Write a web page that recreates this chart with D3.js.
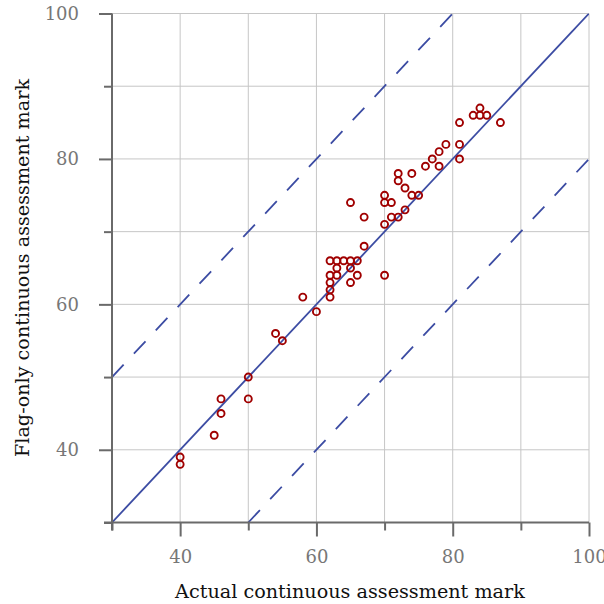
<!DOCTYPE html>
<html>
<head>
<meta charset="utf-8">
<script src="https://cdn.jsdelivr.net/npm/d3@7"></script>
<style>
  html, body { margin: 0; padding: 0; background: #fff; }
  svg { display: block; }
</style>
</head>
<body>
<svg id="chart" width="604" height="604"></svg>
<script>
// Actual continuous assessment mark
const actualMarks = [40, 40, 45, 46, 46, 50, 50, 54, 55, 58, 60,
  62, 62, 62, 62, 62, 63, 63, 63, 64, 65, 65, 65, 66, 66,
  65, 67, 67, 70, 70, 71, 70, 70, 71, 72, 73, 72, 72, 74, 73, 74, 75,
  76, 77, 78, 78, 79, 81, 81, 81, 83, 84, 84, 85, 87];
// Flag-only continuous assessment mark
const flagMarks = [39, 38, 42, 47, 45, 50, 47, 56, 55, 61, 59,
  66, 64, 63, 62, 61, 66, 65, 64, 66, 66, 65, 63, 66, 64,
  74, 72, 68, 75, 74, 74, 71, 64, 72, 72, 73, 78, 77, 78, 76, 75, 75,
  79, 80, 81, 79, 82, 85, 82, 80, 86, 87, 86, 86, 85];
const majorTicks = [40, 60, 80, 100];
const minorTicks = [30, 50, 70, 90];
const gridValues = [40, 50, 60, 70, 80, 90, 100];
const refOffsets = [0, 20, -20];
const axisDomain = [30, 100];
const xTitle = "Actual continuous assessment mark";
const yTitle = "Flag-only continuous assessment mark";

const svg = d3.select("#chart");
const x = d3.scaleLinear().domain(axisDomain).range([112, 589]);
const y = d3.scaleLinear().domain(axisDomain).range([522.5, 13.5]);
const font = "'DejaVu Serif', serif";
const axisColor = "#6a6a6a";
const lineColor = "#3c4ca3";
const pointColor = "#a00000";

// grid
const grid = svg.append("g");
grid.selectAll("line.v").data(gridValues).join("line")
  .attr("x1", d => x(d)).attr("x2", d => x(d))
  .attr("y1", y(30)).attr("y2", y(100))
  .attr("stroke", "#c6c6c6").attr("stroke-width", 1);
grid.selectAll("line.h").data(gridValues).join("line")
  .attr("y1", d => y(d)).attr("y2", d => y(d))
  .attr("x1", x(30)).attr("x2", x(100))
  .attr("stroke", "#c6c6c6").attr("stroke-width", 1);

// reference lines (clipped to plot area)
svg.append("clipPath").attr("id", "plotclip").append("rect")
  .attr("x", x(30)).attr("y", y(100))
  .attr("width", x(100) - x(30)).attr("height", y(30) - y(100));
const refs = svg.append("g").attr("clip-path", "url(#plotclip)");
refs.selectAll("line").data(refOffsets).join("line")
  .attr("x1", d => x(Math.max(30, 30 - d)))
  .attr("y1", d => y(Math.max(30, 30 - d) + d))
  .attr("x2", d => x(Math.min(100, 100 - d)))
  .attr("y2", d => y(Math.min(100, 100 - d) + d))
  .attr("stroke", lineColor).attr("stroke-width", 1.8)
  .attr("stroke-dasharray", d => d === 0 ? null : "17,15");

// axes
function styleAxis(g) {
  g.select(".domain").remove();
  g.selectAll("line").attr("stroke", axisColor).attr("stroke-width", 2);
  g.selectAll("text").attr("fill", "#777").attr("font-family", font).attr("font-size", 18);
}
const xMajor = svg.append("g").attr("transform", `translate(0,${y(30)})`)
  .call(d3.axisBottom(x).tickValues(majorTicks).tickSize(14).tickPadding(14).tickFormat(d3.format("d")));
styleAxis(xMajor);
const xMinor = svg.append("g").attr("transform", `translate(0,${y(30)})`)
  .call(d3.axisBottom(x).tickValues(minorTicks).tickSize(8).tickFormat(""));
styleAxis(xMinor);
const yMajor = svg.append("g").attr("transform", `translate(${x(30)},0)`)
  .call(d3.axisLeft(y).tickValues(majorTicks).tickSize(13).tickPadding(20).tickFormat(d3.format("d")));
styleAxis(yMajor);
const yMinor = svg.append("g").attr("transform", `translate(${x(30)},0)`)
  .call(d3.axisLeft(y).tickValues(minorTicks).tickSize(8).tickFormat(""));
styleAxis(yMinor);

// axis lines
svg.append("line").attr("x1", x(30) - 8).attr("x2", x(100))
  .attr("y1", y(30)).attr("y2", y(30))
  .attr("stroke", axisColor).attr("stroke-width", 2);
svg.append("line").attr("x1", x(30)).attr("x2", x(30))
  .attr("y1", y(100)).attr("y2", y(30) + 8)
  .attr("stroke", axisColor).attr("stroke-width", 2);

// points
svg.append("g").selectAll("circle").data(actualMarks.map((a, i) => [a, flagMarks[i]]))
  .join("circle")
  .attr("cx", d => x(d[0])).attr("cy", d => y(d[1]))
  .attr("r", 3.5)
  .attr("fill", "none").attr("stroke", pointColor).attr("stroke-width", 1.9);

// titles
svg.append("text").attr("x", 350).attr("y", 598)
  .attr("text-anchor", "middle").attr("font-family", font).attr("font-size", 19.2)
  .attr("fill", "#111").text(xTitle);
svg.append("text").attr("transform", "translate(28.5,268) rotate(-90)")
  .attr("text-anchor", "middle").attr("font-family", font).attr("font-size", 19.2)
  .attr("fill", "#111").text(yTitle);
</script>
</body>
</html>
